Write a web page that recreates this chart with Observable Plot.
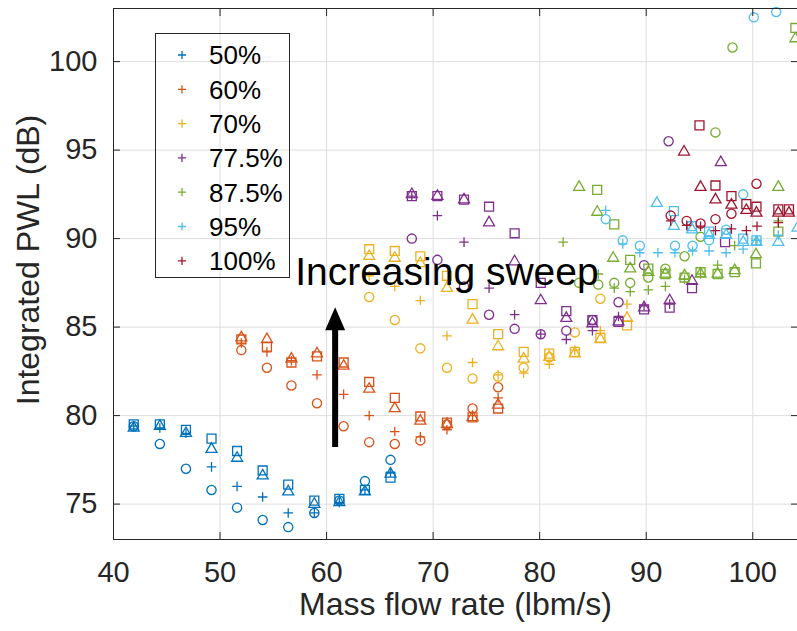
<!DOCTYPE html>
<html><head><meta charset="utf-8">
<script src="https://cdn.jsdelivr.net/npm/d3@7"></script>
<script src="https://cdn.jsdelivr.net/npm/@observablehq/plot@0.6"></script>
<style>body{margin:0;background:#fff} svg{display:block}</style>
</head><body><div id="chart"></div>
<script>
const speeds = ["50%","60%","70%","77.5%","87.5%","95%","100%"];
const colors = ["#0072BD","#D95319","#EDB120","#7E2F8E","#77AC30","#4DBEEE","#A2142F"];
const markerTypes = ["plus","circle","square","triangle"];
const xTicks = [40,50,60,70,80,90,100];
const yTicks = [75,80,85,90,95,100];
const xLabel = "Mass flow rate (lbm/s)";
const yLabel = "Integrated PWL (dB)";
const noteText = "Increasing sweep";
const notePos = [57.05, 88.07];
const arrowFlow = 60.85, arrowFrom = 78.2, arrowTo = 86.1;

// 50 %
const flow50 = [41.9,44.35,46.8,49.2,51.6,54.0,56.4,58.85,61.2,63.6,66.0];
const plus50 = [79.4,79.3,79.0,77.1,76.0,75.4,74.5,74.5,75.1,75.8,76.8];
const circle50 = [79.4,78.4,77.0,75.8,74.8,74.1,73.7,74.5,75.2,76.3,77.5];
const square50 = [79.5,79.5,79.2,78.7,78.0,76.9,76.1,75.2,75.3,75.8,76.5];
const triangle50 = [79.3,79.4,79.0,78.1,77.6,76.6,75.7,75.0,75.1,75.7,76.7];
// 60 %
const flow60 = [52.0,54.4,56.7,59.1,61.6,64.0,66.4,68.8,71.3,73.7,76.1];
const plus60 = [84.1,83.6,83.1,82.3,81.2,80.0,79.1,78.8,79.2,80.0,81.0];
const circle60 = [83.7,82.7,81.7,80.7,79.4,78.5,78.4,78.6,79.5,80.4,81.6];
const square60 = [84.3,83.9,83.0,83.35,83.0,81.9,81.0,79.95,79.6,79.9,80.4];
const triangle60 = [84.4,84.3,83.2,83.5,82.8,81.5,80.4,79.7,79.5,79.9,80.6];
// 70 %
const flow70 = [64.0,66.4,68.8,71.3,73.7,76.1,78.5,80.9,83.3,85.7,88.2];
const plus70 = [87.9,87.3,86.5,84.5,83.0,82.3,82.4,82.9,83.7,84.8,86.3];
const circle70 = [86.7,85.4,83.8,82.7,82.1,82.2,82.7,83.3,84.7,86.6,null];
const square70 = [89.4,89.3,89.0,87.9,86.3,84.6,83.6,83.5,83.6,84.4,85.1];
const triangle70 = [89.0,88.9,88.6,87.2,85.4,83.9,83.2,83.3,83.5,84.3,85.5];
// 77.5 %  [flow, PWL]
const plus775 = [[68.0,92.4],[70.4,91.3],[72.9,89.8],[75.25,87.2],[77.65,85.7],[80.1,84.6],[82.5,84.3],[84.95,84.8],[87.4,85.6],[89.8,86.2],[92.2,86.3]];
const circle775 = [[68.0,90.0],[70.4,88.8],[72.9,87.3],[75.25,85.7],[77.65,84.9],[80.1,84.6],[82.5,84.8],[84.95,85.4],[87.4,86.4],[89.8,88.5],[92.1,95.5]];
const square775 = [[68.0,92.4],[70.4,92.4],[72.9,92.2],[75.25,91.8],[77.65,90.3],[80.1,87.5],[82.5,85.9],[84.95,85.4],[87.4,85.3],[89.8,86.0],[92.2,86.1],[94.3,87.2],[97.4,89.8]];
const triangle775 = [[68.0,92.5],[70.4,92.4],[72.9,92.2],[75.25,90.9],[77.65,88.7],[80.1,86.5],[82.5,85.5],[84.95,85.2],[87.4,85.3],[89.8,86.1],[92.2,86.5],[94.3,87.6],[97.0,94.3]];
// 87.5 %
const plus875 = [[82.2,89.8],[85.5,88.0],[87.0,87.2],[88.5,87.0],[90.2,87.1],[91.8,87.3],[93.6,87.7],[95.1,88.0],[96.7,88.5],[98.3,89.6],[100.3,89.9],[102.4,91.0]];
const circle875 = [[83.7,87.5],[85.5,87.4],[87.0,87.5],[88.5,87.5],[90.2,87.8],[91.8,88.3],[93.6,89.0],[95.1,90.1],[96.5,96.0],[98.1,100.8]];
const square875 = [[85.4,92.75],[87.0,90.8],[88.5,88.8],[90.2,88.3],[91.8,88.0],[93.6,87.8],[95.1,88.1],[96.7,88.0],[98.3,88.1],[100.3,88.6],[102.4,90.4],[104.0,101.9]];
const triangle875 = [[83.7,92.9],[85.4,91.5],[86.9,88.9],[88.5,88.3],[90.2,88.1],[91.8,88.0],[93.6,87.9],[95.1,88.0],[96.7,88.0],[98.3,88.2],[100.3,89.1],[102.4,92.9],[104.0,101.3]];
// 95 %
const plus95 = [[86.2,91.6],[87.8,89.7],[89.4,89.2],[91.1,89.2],[92.7,89.2],[94.35,89.3],[95.9,89.3],[97.5,89.2],[99.1,89.4],[100.4,89.9],[102.4,90.2]];
const circle95 = [[86.2,91.1],[87.8,89.9],[89.4,89.6],[92.7,89.6],[94.35,89.6],[95.9,89.9],[97.5,90.5],[99.1,92.5],[100.1,102.5],[102.2,102.8]];
const square95 = [[92.6,91.55],[94.3,90.7],[95.9,90.4],[97.5,90.3],[99.1,90.0],[100.35,89.9]];
const triangle95 = [[91.0,92.0],[92.6,90.7],[94.3,90.5],[95.9,90.2],[97.5,90.2],[99.1,89.8],[100.35,89.8],[102.4,89.8],[104.2,90.6]];
// 100 %
const plus100 = [[92.3,91.0],[93.8,90.75],[95.1,90.7],[96.5,90.45],[98.0,90.55],[99.4,90.45],[100.4,90.7],[102.4,90.9]];
const circle100 = [[92.3,91.3],[93.8,91.0],[95.1,90.85],[96.5,91.1],[98.0,91.4],[100.35,93.1]];
const square100 = [[95.0,96.4],[96.5,93.0],[98.0,92.4],[99.4,91.95],[100.35,91.8],[102.4,91.65],[103.4,91.65]];
const triangle100 = [[93.55,94.9],[95.1,92.9],[96.5,92.2],[98.0,91.9],[99.4,91.6],[100.35,91.45],[102.4,91.45],[103.4,91.45]];

const grid = (flow, ys) => ys.map((y, i) => y == null ? null : [flow[i], y]).filter(Boolean);
const series = [
  [grid(flow50, plus50), grid(flow50, circle50), grid(flow50, square50), grid(flow50, triangle50)],
  [grid(flow60, plus60), grid(flow60, circle60), grid(flow60, square60), grid(flow60, triangle60)],
  [grid(flow70, plus70), grid(flow70, circle70), grid(flow70, square70), grid(flow70, triangle70)],
  [plus775, circle775, square775, triangle775],
  [plus875, circle875, square875, triangle875],
  [plus95, circle95, square95, triangle95],
  [plus100, circle100, square100, triangle100]
];

const symbolOf = {plus: "plus", circle: "circle", square: "square2", triangle: "triangle2"};
const rOf = {plus: 3.2, circle: 4.6, square: 5.7, triangle: 5.25};
const dotMarks = [];
series.forEach((sets, si) => {
  sets.forEach((pts, mi) => {
    const m = markerTypes[mi];
    dotMarks.push(Plot.dot(pts.map(p => ({flow: p[0], pwl: p[1], speed: speeds[si]})), {
      x: "flow", y: "pwl", stroke: "speed", symbol: () => symbolOf[m], r: rOf[m],
      fill: "none", strokeWidth: 1.3
    }));
  });
});

const font = "'Liberation Sans', Arial, Helvetica, sans-serif";
const chart = Plot.plot({
  width: 797, height: 631,
  marginLeft: 113, marginRight: 0, marginTop: 8, marginBottom: 92,
  style: {fontFamily: font, color: "#262626", background: "#fff", overflow: "visible"},
  x: {domain: [40, 104.2]},
  y: {domain: [73, 103]},
  color: {domain: speeds, range: colors},
  symbol: {type: "identity"},
  marks: [
    Plot.gridX(xTicks, {stroke: "#dedede", strokeOpacity: 1}),
    Plot.gridY(yTicks, {stroke: "#dedede", strokeOpacity: 1}),
    ...dotMarks,
    Plot.frame({stroke: "#262626"}),
    Plot.axisX(xTicks, {anchor: "bottom", tickSize: -7, tickPadding: 29, fontSize: 29, label: null}),
    Plot.axisX(xTicks, {anchor: "top", tickSize: -7, tickFormat: () => "", label: null}),
    Plot.axisY(yTicks, {anchor: "left", tickSize: -7, tickPadding: 23, fontSize: 29, label: null}),
    Plot.axisY(yTicks, {anchor: "right", tickSize: -7, tickFormat: () => "", label: null}),
    Plot.text([xLabel], {text: d => d, frameAnchor: "bottom", dy: 75, fontSize: 32, fill: "#262626"}),
    Plot.text([yLabel], {text: d => d, frameAnchor: "left", textAnchor: "middle", rotate: -90, dx: -85, dy: -14, fontSize: 32, fill: "#262626"}),
    Plot.text([noteText], {text: d => d, x: () => notePos[0], y: () => notePos[1], textAnchor: "start", fontSize: 39, fill: "#000"})
  ]
});
document.getElementById("chart").appendChild(chart);

// legend and arrow annotation
const svg = d3.select(chart);
const lg = svg.append("g").attr("text-anchor", "start");
lg.append("rect").attr("x", 155.5).attr("y", 33.5).attr("width", 134).attr("height", 244)
  .attr("fill", "none").attr("stroke", "#262626").attr("stroke-width", 1);
speeds.forEach((s, i) => {
  const cy = 55 + i * 34.3;
  lg.append("path").attr("transform", `translate(182,${cy})`)
    .attr("d", d3.symbol(d3.symbolPlus, 24)()).attr("fill", "none")
    .attr("stroke", colors[i]).attr("stroke-width", 1.3);
  lg.append("text").attr("x", 209).attr("y", cy).attr("dy", "0.36em")
    .attr("text-anchor", "start")
    .attr("font-size", 26).attr("fill", "#000").attr("font-family", font).text(s);
});
const sx = chart.scale("x"), sy = chart.scale("y");
const ax = sx.apply(arrowFlow), ay0 = sy.apply(arrowFrom), ay1 = sy.apply(arrowTo);
const headL = 23, headW = 10, shaftW = 3;
svg.append("path").attr("fill", "#000").attr("d",
  `M${ax - shaftW},${ay0}L${ax - shaftW},${ay1 + headL}L${ax - headW},${ay1 + headL}L${ax},${ay1}L${ax + headW},${ay1 + headL}L${ax + shaftW},${ay1 + headL}L${ax + shaftW},${ay0}Z`);
</script>
</body></html>
